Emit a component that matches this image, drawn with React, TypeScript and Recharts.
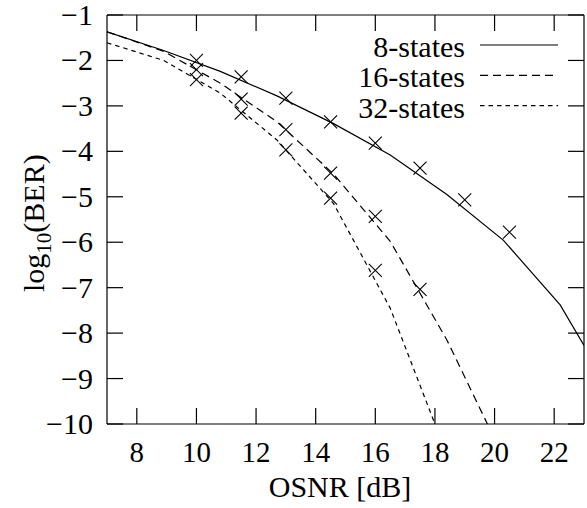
import React from 'react';
import { ComposedChart, Line, Scatter, XAxis, YAxis, Legend } from 'recharts';

const FONT = '"Liberation Serif", "Times New Roman", serif';

// axis ticks
const xTicks = [8, 10, 12, 14, 16, 18, 20, 22];
const yTicks = [-10, -9, -8, -7, -6, -5, -4, -3, -2, -1];

// simulated curves
const sim8 = [
  { x: 7, y: -1.37 }, { x: 8.9, y: -1.78 }, { x: 10.8, y: -2.24 }, { x: 12.7, y: -2.78 },
  { x: 14.6, y: -3.39 }, { x: 16.5, y: -4.08 }, { x: 18.4, y: -4.95 }, { x: 20.3, y: -5.96 },
  { x: 22.2, y: -7.38 }, { x: 23, y: -8.27 },
];
const sim16 = [
  { x: 7, y: -1.37 }, { x: 8.9, y: -1.8 }, { x: 10.8, y: -2.5 }, { x: 12.7, y: -3.35 },
  { x: 14.6, y: -4.5 }, { x: 16.5, y: -5.98 }, { x: 18.4, y: -8.15 }, { x: 19.76, y: -10 },
];
const sim32 = [
  { x: 7, y: -1.61 }, { x: 8.9, y: -2.0 }, { x: 10.8, y: -2.72 }, { x: 12.7, y: -3.75 },
  { x: 14.6, y: -5.15 }, { x: 16.5, y: -7.45 }, { x: 18.0, y: -10 },
];

// measured points (x markers)
const meas8 = [
  { x: 10, y: -2.0 }, { x: 11.5, y: -2.36 }, { x: 13, y: -2.83 }, { x: 14.5, y: -3.35 },
  { x: 16, y: -3.82 }, { x: 17.5, y: -4.37 }, { x: 19, y: -5.07 }, { x: 20.5, y: -5.78 },
];
const meas16 = [
  { x: 10, y: -2.2 }, { x: 11.5, y: -2.85 }, { x: 13, y: -3.52 }, { x: 14.5, y: -4.48 },
  { x: 16, y: -5.43 }, { x: 17.5, y: -7.04 },
];
const meas32 = [
  { x: 10, y: -2.42 }, { x: 11.5, y: -3.16 }, { x: 13, y: -3.97 }, { x: 14.5, y: -5.03 },
  { x: 16, y: -6.62 },
];

const dashes: Record<string, string | undefined> = {
  '8-states': undefined,
  '16-states': '8 5',
  '32-states': '4.5 4',
};

const TICK = 16;
const fmt = (v: number) => (v < 0 ? '\u2212' + Math.abs(v) : String(v));

const BottomTick = ({ x, y, payload }: any) => (
  <g>
    <line x1={x} y1={y} x2={x} y2={y - TICK} stroke="#000" strokeWidth={1.2} />
    <text x={x} y={y + 38} textAnchor="middle" fontFamily={FONT} fontSize={29} fill="#000">
      {payload.value}
    </text>
  </g>
);
const TopTick = ({ x, y }: any) => (
  <line x1={x} y1={y} x2={x} y2={y + TICK} stroke="#000" strokeWidth={1.2} />
);
const LeftTick = ({ x, y, payload }: any) => (
  <g>
    <line x1={x} y1={y} x2={x + TICK} y2={y} stroke="#000" strokeWidth={1.2} />
    <text x={x - 14} y={y + 10} textAnchor="end" fontFamily={FONT} fontSize={30} fill="#000">
      {fmt(payload.value)}
    </text>
  </g>
);
const RightTick = ({ x, y }: any) => (
  <line x1={x} y1={y} x2={x - TICK} y2={y} stroke="#000" strokeWidth={1.2} />
);

const Cross = ({ cx, cy }: any) => (
  <g stroke="#000" strokeWidth={1.1}>
    <line x1={cx - 6.5} y1={cy - 6.5} x2={cx + 6.5} y2={cy + 6.5} />
    <line x1={cx - 6.5} y1={cy + 6.5} x2={cx + 6.5} y2={cy - 6.5} />
  </g>
);

const renderLegend = () => {
  const names = Object.keys(dashes);
  return (
    <svg width={300} height={115} style={{ display: 'block', overflow: 'visible' }}>
      {names.map((n, i) => (
        <g key={n}>
          <text x={185} y={37 + i * 30.3} textAnchor="end" fontFamily={FONT} fontSize={30} fill="#000">
            {n}
          </text>
          <line x1={200} x2={278} y1={25 + i * 30.3} y2={25 + i * 30.3} stroke="#000" strokeWidth={1.2} strokeDasharray={dashes[n]} />
        </g>
      ))}
    </svg>
  );
};

const YLabel = () => (
  <text transform="translate(44,292) rotate(-90)" fontFamily={FONT} fontSize={30} fill="#000">
    log<tspan fontSize={21} dy={7}>10</tspan><tspan dy={-7}>(BER)</tspan>
  </text>
);
const XLabel = () => (
  <text x={340} y={497} textAnchor="middle" fontFamily={FONT} fontSize={30} fill="#000">
    OSNR [dB]
  </text>
);

export default function App() {
  return (
    <div style={{ position: 'absolute', left: 0, top: 0, background: '#fff' }}>
      <ComposedChart width={587} height={508} margin={{ top: 14, right: 2, bottom: 0, left: 0 }}>
        <XAxis
          type="number"
          dataKey="x"
          domain={[7, 23]}
          ticks={xTicks}
          height={84}
          tickSize={0}
          tickMargin={0}
          tickLine={false}
          tick={BottomTick}
          axisLine={{ stroke: '#000', strokeWidth: 1.2 }}
          allowDataOverflow
          label={{ content: XLabel }}
        />
        <XAxis
          xAxisId="top"
          orientation="top"
          type="number"
          dataKey="x"
          domain={[7, 23]}
          ticks={xTicks}
          height={1}
          tickSize={0}
          tickMargin={0}
          tickLine={false}
          tick={TopTick}
          axisLine={{ stroke: '#000', strokeWidth: 1.2 }}
          allowDataOverflow
        />
        <YAxis
          type="number"
          domain={[-10, -1]}
          ticks={yTicks}
          width={107}
          tickSize={0}
          tickMargin={0}
          tickLine={false}
          tick={LeftTick}
          axisLine={{ stroke: '#000', strokeWidth: 1.2 }}
          allowDataOverflow
          label={{ content: YLabel }}
        />
        <YAxis
          yAxisId="right"
          orientation="right"
          type="number"
          domain={[-10, -1]}
          ticks={yTicks}
          width={1}
          tickSize={0}
          tickMargin={0}
          tickLine={false}
          tick={RightTick}
          axisLine={{ stroke: '#000', strokeWidth: 1.2 }}
          allowDataOverflow
        />
        <Legend
          layout="vertical"
          align="center"
          verticalAlign="middle"
          content={renderLegend}
          wrapperStyle={{ position: 'absolute', left: 280, top: 20, width: 300, height: 115 }}
        />
        <Line data={sim8} dataKey="y" name="8-states" type="linear" stroke="#000" strokeWidth={1.2} dot={false} isAnimationActive={false} />
        <Line data={sim16} dataKey="y" name="16-states" type="linear" stroke="#000" strokeWidth={1.2} strokeDasharray={dashes['16-states']} dot={false} isAnimationActive={false} />
        <Line data={sim32} dataKey="y" name="32-states" type="linear" stroke="#000" strokeWidth={1.2} strokeDasharray={dashes['32-states']} dot={false} isAnimationActive={false} />
        <Scatter data={meas8} dataKey="y" legendType="none" shape={Cross} isAnimationActive={false} />
        <Scatter data={meas16} dataKey="y" legendType="none" shape={Cross} isAnimationActive={false} />
        <Scatter data={meas32} dataKey="y" legendType="none" shape={Cross} isAnimationActive={false} />
      </ComposedChart>
    </div>
  );
}
